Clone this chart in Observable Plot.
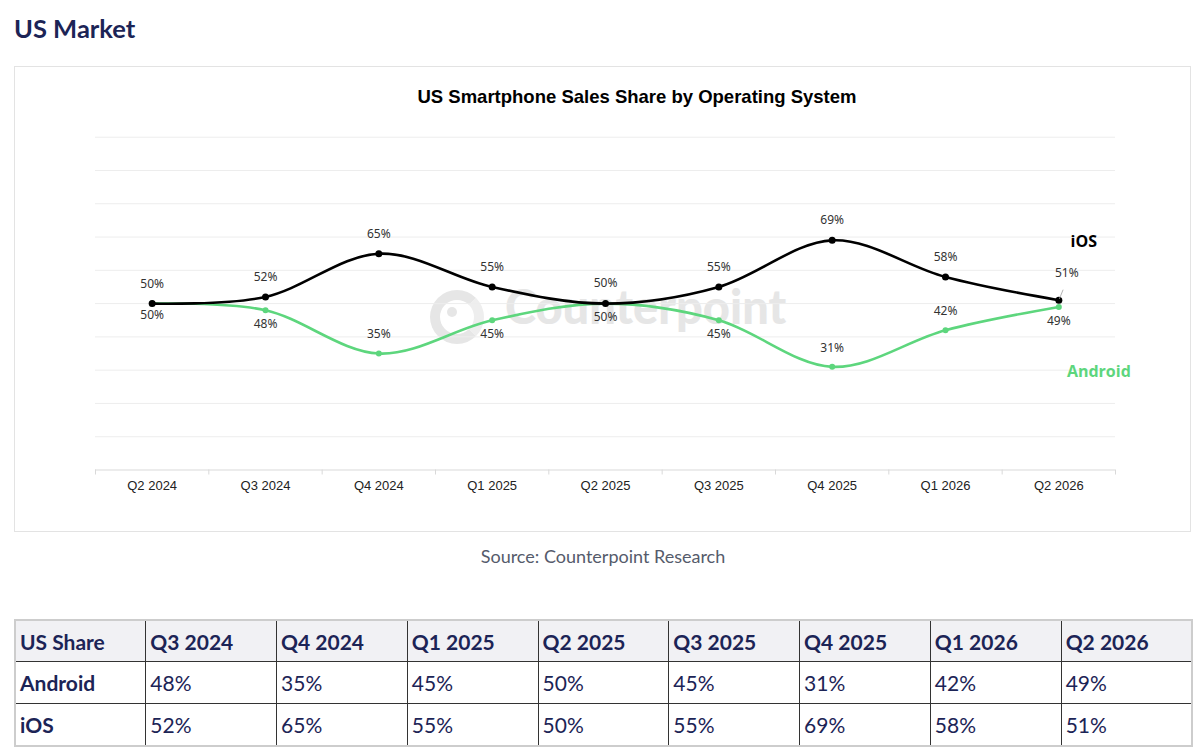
<!DOCTYPE html>
<html>
<head>
<meta charset="utf-8">
<script src="https://cdn.jsdelivr.net/npm/d3@7"></script>
<script src="https://cdn.jsdelivr.net/npm/@observablehq/plot@0.6"></script>
<style>
  body { margin:0; width:1200px; height:755px; position:relative; background:#fff; overflow:hidden; }
  #heading { position:absolute; left:14px; top:12px; font:700 25.5px/32px Lato, sans-serif; color:#1c2456; }
  #box { position:absolute; left:14px; top:66px; width:1177px; height:466px; box-sizing:border-box; border:1px solid #e3e3e3; }
  #title { position:absolute; left:337px; width:600px; top:86px; text-align:center; font:700 18.5px/22px "Liberation Sans", Arial, sans-serif; color:#000; white-space:nowrap; }
  #wm { position:absolute; left:430px; top:290px; height:56px; }
  #wm .ring { position:absolute; left:0; top:0; width:34px; height:34px; border:10px solid #e6e6e6; border-radius:50%; border-right-color:#eeeeee; }
  #wm .dot { position:absolute; left:17px; top:17px; width:10px; height:10px; border-radius:50%; background:#e6e6e6; }
  #wm .txt { position:absolute; left:75px; top:-12px; font:900 47px/56px Lato, sans-serif; color:#e6e6e6; white-space:nowrap; }
  #chart { position:absolute; left:14px; top:106px; }
  #source { position:absolute; left:303px; width:600px; top:545px; text-align:center; font:400 18px/22px Lato, sans-serif; color:#555b6b; }
  #tbl { position:absolute; left:14px; top:619px; width:1179px; border-collapse:collapse; table-layout:fixed; border:2px solid #cdcdcd; font-family:Lato, sans-serif; color:#1c2456; }
  #tbl td, #tbl th { border:1px solid #333; padding:0 0 0 4px; text-align:left; font-size:21px; }
  #tbl th { font-weight:700; background:#f1f1f4; height:40px; }
  #tbl td { font-weight:400; height:41px; }
  #tbl td.rowhead { font-weight:700; }
</style>
</head>
<body>
<div id="heading">US Market</div>
<div id="box"></div>
<div id="title">US Smartphone Sales Share by Operating System</div>
<div id="wm"><div class="ring"></div><div class="dot"></div><div class="txt">Counterpoint</div></div>
<div id="chart"></div>
<div id="source">Source: Counterpoint Research</div>
<table id="tbl"></table>
<script>
// ---- data ----
const quarters = ["Q2 2024","Q3 2024","Q4 2024","Q1 2025","Q2 2025","Q3 2025","Q4 2025","Q1 2026","Q2 2026"];
const iosShare = [50, 52, 65, 55, 50, 55, 69, 58, 51];
const androidShare = [50, 48, 35, 45, 50, 45, 31, 42, 49];
const yGridTicks = [10, 20, 30, 40, 50, 60, 70, 80, 90, 100];
const tableQuarters = ["Q3 2024","Q4 2024","Q1 2025","Q2 2025","Q3 2025","Q4 2025","Q1 2026","Q2 2026"];
const tableAndroid = [48, 35, 45, 50, 45, 31, 42, 49];
const tableIos = [52, 65, 55, 50, 55, 69, 58, 51];
// label placement (style, not data)
const iosLabelSide = ["below","above","above","above","above","above","above","above","leader"];
const androidLabelSide = ["above","below","above","below","below","below","above","above","below"];

const green = "#5dd67d";
const idx = quarters.map((q, i) => i);
const bounds = [...idx.map(i => i - 0.5), quarters.length - 0.5];
const rows = quarters.map((q, i) => ({
  i, q, ios: iosShare[i], android: androidShare[i],
  iosSide: iosLabelSide[i], androidSide: androidLabelSide[i]
}));
const pct = v => v + "%";
const lblFont = { fontFamily: "'Noto Sans', sans-serif", fontSize: 12, fill: "#333" };

const chart = Plot.plot({
  width: 1177,
  height: 400,
  marginLeft: 81,
  marginRight: 76,
  marginTop: 30.7,
  marginBottom: 36.5,
  style: { fontFamily: "'Liberation Sans', Arial, sans-serif", fontSize: "13px", color: "#333", background: "transparent", overflow: "visible" },
  x: { type: "linear", domain: [-0.5, quarters.length - 0.5], axis: null },
  y: { domain: [0, 100], axis: null },
  marks: [
    Plot.gridY(yGridTicks, { stroke: "#ededed", strokeOpacity: 1 }),
    Plot.ruleY([0], { stroke: "#d9d9d9" }),
    Plot.axisX({ ticks: bounds, tickSize: 5, stroke: "#d9d9d9", tickFormat: () => "", label: null }),
    Plot.axisX({ ticks: idx, tickSize: 0, tickPadding: 11, tickFormat: i => quarters[i], fill: "#222", fontSize: 13, label: null }),
    // Android
    Plot.line(rows, { x: "i", y: "android", stroke: green, strokeWidth: 2.6, curve: "cardinal" }),
    Plot.dot(rows, { x: "i", y: "android", r: 3, fill: green }),
    // iOS
    Plot.line(rows, { x: "i", y: "ios", stroke: "#000", strokeWidth: 2.6, curve: "cardinal" }),
    Plot.dot(rows, { x: "i", y: "ios", r: 3.5, fill: "#000" }),
    // value labels
    Plot.text(rows.filter(d => d.iosSide === "above"), { x: "i", y: "ios", text: d => pct(d.ios), dy: -20, ...lblFont }),
    Plot.text(rows.filter(d => d.iosSide === "below"), { x: "i", y: "ios", text: d => pct(d.ios), dy: 12, ...lblFont }),
    Plot.text(rows.filter(d => d.iosSide === "leader"), { x: "i", y: "ios", text: d => pct(d.ios), dx: 8, dy: -27, ...lblFont }),
    Plot.vector(rows.filter(d => d.iosSide === "leader"), { x: "i", y: "ios", length: 11, rotate: 22, anchor: "start", stroke: "#aaa", strokeWidth: 0.8,
      shape: { draw(ctx, l) { ctx.moveTo(0, -2); ctx.lineTo(0, -l); } } }),
    Plot.text(rows.filter(d => d.androidSide === "above"), { x: "i", y: "android", text: d => pct(d.android), dy: -19, ...lblFont }),
    Plot.text(rows.filter(d => d.androidSide === "below"), { x: "i", y: "android", text: d => pct(d.android), dy: 14, ...lblFont }),
    // series labels
    Plot.text(rows.slice(-1), { x: "i", y: "ios", text: () => "iOS", dx: 25, dy: -58, fontFamily: "'Open Sans', sans-serif", fontWeight: "bold", fontSize: 16, fill: "#000" }),
    Plot.text(rows.slice(-1), { x: "i", y: "android", text: () => "Android", dx: 40, dy: 65, fontFamily: "'Open Sans', sans-serif", fontWeight: "bold", fontSize: 16, fill: green })
  ]
});
document.getElementById("chart").appendChild(chart);

// ---- table ----
const tbl = document.getElementById("tbl");
const head = "<tr><th>US Share</th>" + tableQuarters.map(q => `<th>${q}</th>`).join("") + "</tr>";
const rowA = "<tr><td class='rowhead'>Android</td>" + tableAndroid.map(v => `<td>${pct(v)}</td>`).join("") + "</tr>";
const rowI = "<tr><td class='rowhead'>iOS</td>" + tableIos.map(v => `<td>${pct(v)}</td>`).join("") + "</tr>";
tbl.innerHTML = head + rowA + rowI;
</script>
</body>
</html>
